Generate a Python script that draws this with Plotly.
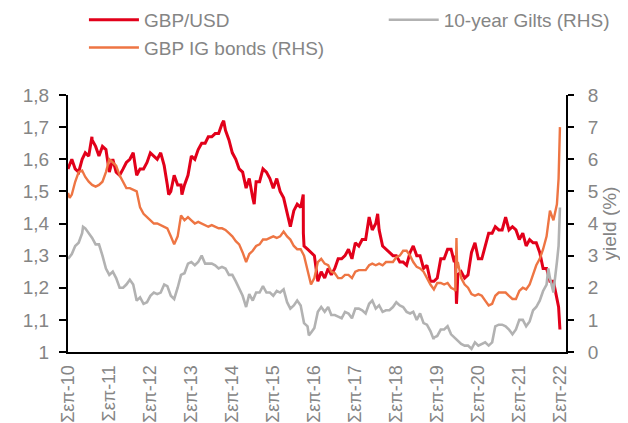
import pandas as pd
import plotly.graph_objects as go

# ---------------- data ----------------
# month-end observations, Oct 2010 .. Aug 2022
month_ends = pd.date_range("2010-10-31", "2022-08-31", freq="ME")

gbpusd = [
    1.60, 1.57, 1.56,
    1.60, 1.62, 1.61, 1.66, 1.64, 1.61, 1.64, 1.63, 1.56, 1.60, 1.56, 1.55,
    1.57, 1.59, 1.60, 1.62, 1.55, 1.57, 1.57, 1.59, 1.62, 1.61, 1.60, 1.62,
    1.58, 1.52, 1.50, 1.55, 1.52, 1.52, 1.52, 1.55, 1.61, 1.60, 1.63, 1.65,
    1.65, 1.67, 1.67, 1.68, 1.68, 1.71, 1.69, 1.66, 1.62, 1.60, 1.57, 1.56,
    1.51, 1.54, 1.48, 1.53, 1.53, 1.57, 1.56, 1.54, 1.51, 1.54, 1.50, 1.48,
    1.43, 1.39, 1.44, 1.46, 1.45, 1.33, 1.32, 1.31, 1.30, 1.22, 1.25, 1.23,
    1.26, 1.24, 1.26, 1.29, 1.29, 1.30, 1.32, 1.29, 1.34, 1.33, 1.35, 1.35,
    1.42, 1.38, 1.40, 1.38, 1.33, 1.32, 1.31, 1.30, 1.30, 1.28, 1.28, 1.27,
    1.31, 1.33, 1.30, 1.30, 1.26, 1.27, 1.22, 1.22, 1.23, 1.29, 1.29, 1.32,
    1.32, 1.28, 1.24, 1.25, 1.23, 1.24, 1.31, 1.34, 1.29, 1.29, 1.33, 1.37,
    1.37, 1.39, 1.38, 1.38, 1.42, 1.38, 1.39, 1.38, 1.35, 1.37, 1.33, 1.35,
    1.34, 1.34, 1.31, 1.26, 1.26, 1.22, 1.22, 1.16,
]
gilts10y = [
    3.05, 3.30, 3.40,
    3.70, 3.85, 3.70, 3.55, 3.35, 3.35, 3.00, 2.60, 2.40, 2.50, 2.30, 2.00,
    2.00, 2.10, 2.25, 2.10, 1.60, 1.70, 1.50, 1.55, 1.75, 1.85, 1.80, 1.85,
    2.10, 2.05, 1.75, 1.65, 2.00, 2.40, 2.45, 2.75, 2.80, 2.70, 2.80, 3.00,
    2.75, 2.75, 2.75, 2.70, 2.60, 2.65, 2.60, 2.40, 2.40, 2.20, 1.95, 1.75,
    1.40, 1.80, 1.60, 1.85, 1.85, 2.05, 1.85, 1.85, 1.75, 1.90, 1.85, 1.95,
    1.55, 1.35, 1.45, 1.60, 1.45, 0.90, 0.80, 0.60, 0.75, 1.25, 1.40, 1.25,
    1.40, 1.15, 1.15, 1.10, 1.05, 1.25, 1.20, 1.05, 1.35, 1.35, 1.30, 1.20,
    1.50, 1.60, 1.35, 1.45, 1.25, 1.30, 1.30, 1.40, 1.55, 1.45, 1.40, 1.25,
    1.20, 1.25, 1.00, 1.20, 0.90, 0.85, 0.65, 0.45, 0.50, 0.70, 0.70, 0.80,
    0.55, 0.45, 0.35, 0.25, 0.20, 0.20, 0.10, 0.30, 0.20, 0.25, 0.30, 0.20,
    0.30, 0.80, 0.85, 0.85, 0.80, 0.70, 0.55, 0.70, 1.00, 1.00, 0.80, 0.95,
    1.30, 1.40, 1.60, 1.90, 2.10, 2.30, 1.85, 2.80,
]
gbp_ig = [
    4.90, 5.30, 5.60,
    5.65, 5.45, 5.30, 5.20, 5.15, 5.20, 5.30, 5.60, 6.00, 5.90, 5.80, 5.50,
    5.30, 5.10, 5.10, 5.05, 5.00, 4.50, 4.30, 4.20, 4.10, 4.00, 4.00, 3.95,
    3.90, 3.85, 3.60, 3.35, 3.60, 4.25, 4.10, 4.20, 4.10, 4.00, 4.05, 4.00,
    3.95, 3.90, 3.95, 3.90, 3.85, 3.85, 3.80, 3.70, 3.60, 3.45, 3.35, 3.10,
    2.80, 3.05, 3.15, 3.30, 3.35, 3.50, 3.50, 3.55, 3.60, 3.55, 3.60, 3.75,
    3.60, 3.50, 3.30, 3.20, 3.20, 3.00, 2.50, 2.10, 2.30, 2.80, 2.90, 2.75,
    2.70, 2.50, 2.45, 2.30, 2.30, 2.40, 2.40, 2.30, 2.50, 2.55, 2.55, 2.55,
    2.70, 2.75, 2.70, 2.75, 2.70, 2.80, 2.80, 2.80, 2.95, 3.00, 3.15, 3.15,
    3.00, 2.80, 2.65, 2.60, 2.50, 2.30, 2.10, 1.95, 2.15, 2.15, 2.10, 2.15,
    2.00, 1.95, 2.80, 2.30, 2.10, 2.00, 1.80, 1.75, 1.80, 1.75, 1.60, 1.45,
    1.50, 1.75, 1.85, 1.85, 1.85, 1.75, 1.65, 1.65, 1.90, 2.00, 1.95, 2.10,
    2.40, 2.70, 2.90, 3.20, 3.60, 4.40, 4.10, 4.60,
]

# additional daily observations (start, turning points, end)
gbpusd_extra_dates = ["2010-09-27", "2011-04-28", "2013-03-12", "2013-07-08", "2014-07-15",
                      "2015-04-13", "2016-06-23", "2016-06-24", "2018-04-17", "2020-03-10",
                      "2020-03-19", "2020-03-25", "2022-09-15", "2022-09-27"]
gbpusd_extra_vals = [1.57, 1.67, 1.49, 1.49, 1.72, 1.46, 1.49, 1.37, 1.43, 1.30,
                     1.15, 1.19, 1.14, 1.07]
gilts_extra_dates = ["2010-09-27", "2011-02-08", "2016-08-12", "2019-08-28", "2022-06-15",
                     "2022-08-01", "2022-09-15", "2022-09-27"]
gilts_extra_vals = [2.90, 3.90, 0.52, 0.40, 2.60, 1.90, 3.30, 4.50]
ig_extra_dates = ["2010-09-27", "2010-10-12", "2020-03-10", "2020-03-19", "2020-03-25",
                  "2022-09-15", "2022-09-27"]
ig_extra_vals = [4.95, 4.80, 1.90, 3.55, 2.60, 5.40, 7.00]

tick_dates = [f"20{y:02d}-09-27" for y in range(10, 23)]
tick_labels = [f"Σεπ-{y:02d}" for y in range(10, 23)]


def series(vals, extra_dates, extra_vals):
    s = pd.Series(vals, index=month_ends)
    e = pd.Series(extra_vals, index=pd.to_datetime(extra_dates))
    return pd.concat([s, e]).sort_index()


s_usd = series(gbpusd, gbpusd_extra_dates, gbpusd_extra_vals)
s_gilt = series(gilts10y, gilts_extra_dates, gilts_extra_vals)
s_ig = series(gbp_ig, ig_extra_dates, ig_extra_vals)

RED = "#E2001A"
ORANGE = "#EE7543"
GRAY = "#B2B2B2"
TXT = "#858585"
FONT = "Liberation Sans, Arial, sans-serif"
FS = 19

fig = go.Figure()
fig.add_trace(go.Scatter(x=s_gilt.index, y=s_gilt.values, name="10-year Gilts (RHS)", yaxis="y2",
                         mode="lines", line=dict(color=GRAY, width=2.6), legend="legend2"))
fig.add_trace(go.Scatter(x=s_ig.index, y=s_ig.values, name="GBP IG bonds (RHS)", yaxis="y2",
                         mode="lines", line=dict(color=ORANGE, width=2.4), legend="legend",
                         legendrank=2, legendgroup="b"))
fig.add_trace(go.Scatter(x=s_usd.index, y=s_usd.values, name="GBP/USD", yaxis="y",
                         mode="lines", line=dict(color=RED, width=3), legend="legend",
                         legendrank=1, legendgroup="a"))

fig.update_layout(
    width=628, height=423,
    margin=dict(l=60, r=70, t=87, b=79, autoexpand=False),
    paper_bgcolor="white", plot_bgcolor="white",
    separators=",.",
    font=dict(family=FONT, size=FS, color=TXT),
    xaxis=dict(type="date", range=["2010-09-27", "2022-11-20"],
               tickvals=tick_dates, ticktext=tick_labels, tickangle=-90,
               tickfont=dict(size=18),
               showline=True, linecolor="black", linewidth=2, ticks="",
               showgrid=False, zeroline=False, ticklabelstandoff=4),
    yaxis=dict(range=[1, 1.8], dtick=0.1, showline=True, linecolor="black", linewidth=2,
               ticks="outside", ticklen=7, tickwidth=2, tickcolor="black",
               showgrid=False, zeroline=False, ticklabelstandoff=6),
    yaxis2=dict(range=[0, 8], dtick=1, overlaying="y", side="right", showline=True,
                linecolor="black", linewidth=2, ticks="outside", ticklen=6, tickwidth=2,
                tickcolor="black", showgrid=False, zeroline=False, ticklabelstandoff=10,
                title=dict(text="yield (%)", standoff=0, font=dict(size=FS, color=TXT))),
    legend=dict(x=0.032, y=1.366, xanchor="left", yanchor="top", orientation="v",
                bgcolor="rgba(0,0,0,0)", tracegroupgap=0, itemwidth=50,
                font=dict(size=FS, color=TXT)),
    legend2=dict(x=0.634, y=1.366, xanchor="left", yanchor="top", orientation="v",
                 bgcolor="rgba(0,0,0,0)", itemwidth=50, font=dict(size=FS, color=TXT)),
    showlegend=True,
)

fig.write_html("out.html")
